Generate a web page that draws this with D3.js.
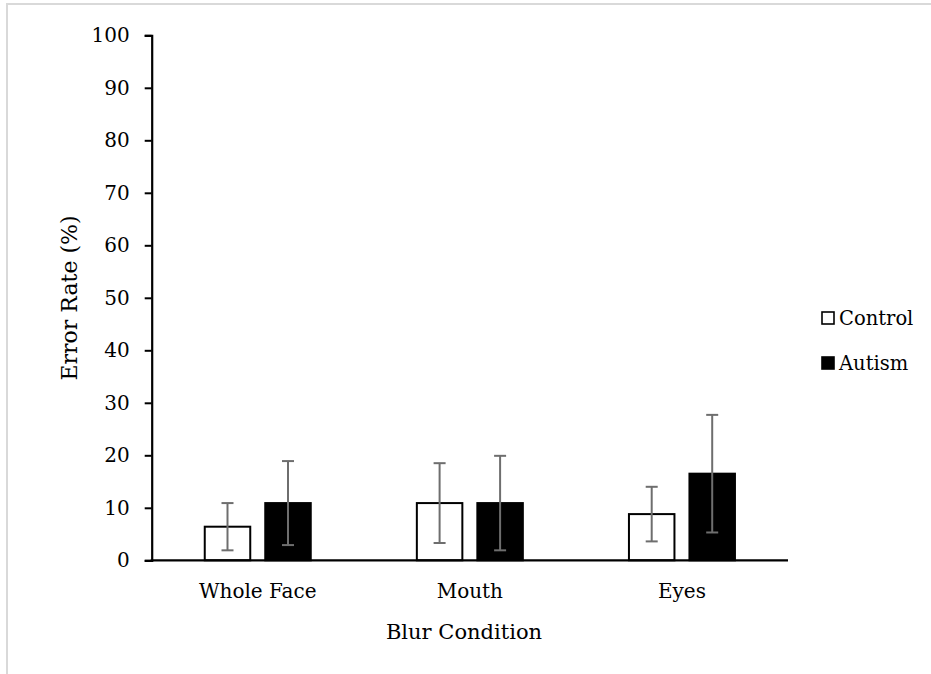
<!DOCTYPE html>
<html>
<head>
<meta charset="utf-8">
<script src="https://cdn.jsdelivr.net/npm/d3@7"></script>
<style>
  html, body { margin: 0; padding: 0; background: #fff; }
  svg { display: block; }
  text { font-family: "DejaVu Serif", "Liberation Serif", serif; fill: #000; }
</style>
</head>
<body>
<svg id="chart" width="931" height="674"></svg>
<script>
// Error rate by blur condition, control vs autism (means with error bars)
const categories = ["Whole Face", "Mouth", "Eyes"];
const seriesNames = ["Control", "Autism"];
const controlMean = [6.4, 10.9, 8.8];
const autismMean = [10.9, 10.9, 16.5];
const controlErr = [4.5, 7.6, 5.2];
const autismErr = [8.0, 9.0, 11.2];
const yTicks = [0, 10, 20, 30, 40, 50, 60, 70, 80, 90, 100];

const svg = d3.select("#chart");

// outer frame of the chart area
svg.append("rect")
  .attr("x", 7).attr("y", 4)
  .attr("width", 1000).attr("height", 800)
  .attr("fill", "none")
  .attr("stroke", "#d9d9d9")
  .attr("stroke-width", 2);

const plotLeft = 151.7, plotRight = 788, plotTop = 35.3, plotBottom = 560.3;

const x = d3.scaleBand().domain(categories).range([plotLeft, plotRight]).padding(0);
const y = d3.scaleLinear().domain([0, 100]).range([plotBottom, plotTop]);

const barW = 47.5, barGap = 13;
const groups = [
  { name: "Control", mean: controlMean, err: controlErr, fill: "#fff", offset: -(barGap / 2 + barW) },
  { name: "Autism", mean: autismMean, err: autismErr, fill: "#000", offset: barGap / 2 }
];

const g = svg.append("g");

groups.forEach(s => {
  categories.forEach((c, i) => {
    const cx = x(c) + x.bandwidth() / 2;
    const left = cx + s.offset;
    g.append("rect")
      .attr("x", left + 1)
      .attr("y", y(s.mean[i]))
      .attr("width", barW - 2)
      .attr("height", y(0) - y(s.mean[i]))
      .attr("fill", s.fill)
      .attr("stroke", "#000")
      .attr("stroke-width", 2);
  });
});

// error bars
groups.forEach(s => {
  categories.forEach((c, i) => {
    const cx = x(c) + x.bandwidth() / 2 + s.offset + barW / 2;
    const lo = y(s.mean[i] - s.err[i]);
    const hi = y(s.mean[i] + s.err[i]);
    const eb = g.append("g").attr("stroke", "#6e6e6e").attr("stroke-width", 2);
    eb.append("line").attr("x1", cx).attr("x2", cx).attr("y1", lo).attr("y2", hi);
    eb.append("line").attr("x1", cx - 6).attr("x2", cx + 6).attr("y1", lo).attr("y2", lo);
    eb.append("line").attr("x1", cx - 6).attr("x2", cx + 6).attr("y1", hi).attr("y2", hi);
  });
});

// y axis
const yAxis = d3.axisLeft(y).tickValues(yTicks).tickSize(7).tickPadding(15).tickSizeOuter(7);
const ya = svg.append("g").attr("transform", `translate(${plotLeft},0)`).call(yAxis);
ya.select(".domain").attr("stroke", "#000").attr("stroke-width", 2.2);
ya.selectAll(".tick line").attr("stroke", "#000").attr("stroke-width", 2);
ya.selectAll(".tick text").style("font-size", "20px").style("font-family", "DejaVu Serif");

// x axis baseline
svg.append("line")
  .attr("x1", plotLeft - 1).attr("x2", plotRight)
  .attr("y1", y(0)).attr("y2", y(0))
  .attr("stroke", "#000").attr("stroke-width", 2.2);

// category labels
svg.append("g").selectAll("text").data(categories).join("text")
  .attr("x", d => x(d) + x.bandwidth() / 2)
  .attr("y", 598)
  .attr("text-anchor", "middle")
  .style("font-size", "20px")
  .text(d => d);

// axis titles
svg.append("text")
  .attr("x", 464).attr("y", 639)
  .attr("text-anchor", "middle")
  .style("font-size", "21px")
  .text("Blur Condition");

svg.append("text")
  .attr("transform", "translate(77,298) rotate(-90)")
  .attr("text-anchor", "middle")
  .style("font-size", "22px")
  .text("Error Rate (%)");

// legend
const legend = svg.append("g");
seriesNames.forEach((n, i) => {
  const ly = 312 + i * 45;
  legend.append("rect")
    .attr("x", 822).attr("y", ly)
    .attr("width", 12).attr("height", 12)
    .attr("fill", i === 0 ? "#fff" : "#000")
    .attr("stroke", "#000").attr("stroke-width", 1.6);
  legend.append("text")
    .attr("x", 839).attr("y", ly + 13)
    .style("font-size", "19.5px")
    .text(n);
});
</script>
</body>
</html>
